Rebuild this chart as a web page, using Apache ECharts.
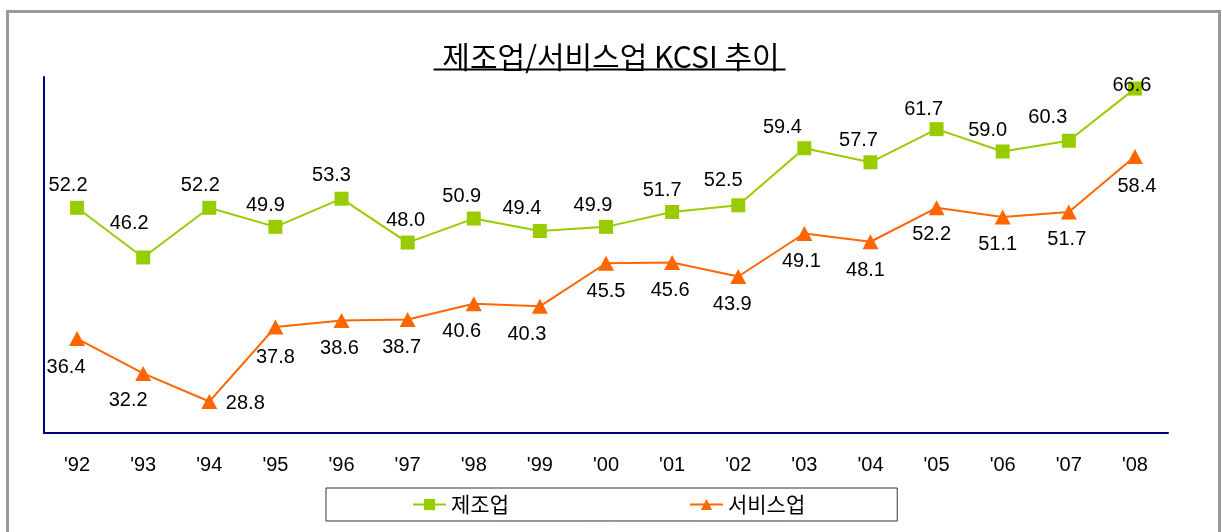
<!DOCTYPE html>
<html>
<head>
<meta charset="utf-8">
<script src="https://cdn.jsdelivr.net/npm/echarts@6/dist/echarts.min.js"></script>
<style>
  html, body { margin: 0; padding: 0; background: #fff; }
  #chart { width: 1222px; height: 532px; }
</style>
</head>
<body>
<div id="chart"></div>
<script>
var years = ["'92", "'93", "'94", "'95", "'96", "'97", "'98", "'99", "'00", "'01", "'02", "'03", "'04", "'05", "'06", "'07", "'08"]
var manufacturing = [52.2, 46.2, 52.2, 49.9, 53.3, 48.0, 50.9, 49.4, 49.9, 51.7, 52.5, 59.4, 57.7, 61.7, 59.0, 60.3, 66.6]
var service = [36.4, 32.2, 28.8, 37.8, 38.6, 38.7, 40.6, 40.3, 45.5, 45.6, 43.9, 49.1, 48.1, 52.2, 51.1, 51.7, 58.4]

// label nudges (px from the marker centre), hand placed in the original
var mfgLabelOffset = [[-9, -22], [-14, -34], [-9, -22], [-10, -21], [-10, -23], [-2, -22], [-12, -22], [-18, -23], [-13, -21],
  [-10, -21], [-15, -25], [-22, -21], [-12, -22], [-13, -20], [-15, -21], [-21, -23], [-3, -3]]
var svcLabelOffset = [[-11, 29], [-15, 27], [36, 2], [0, 30], [-2, 28], [-6, 28], [-12, 28], [-13, 28], [0, 28],
  [-2, 28], [-6, 28], [-3, 28], [-5, 29], [-5, 27], [-5, 28], [-2, 28], [2, 30]]

var COLORS = {
  mfg: '#99CC00',
  svc: '#FF6600',
  axis: '#000080',
  frame: '#9A9A9A'
}
var NUM_FONT = 'Liberation Sans, Arial, sans-serif'
var KR_FONT = 'Noto Sans CJK KR, sans-serif'

function withLabels(values, offsets) {
  return values.map(function (v, i) {
    return { value: v, label: { offset: offsets[i] } }
  })
}

var chart = echarts.init(document.getElementById('chart'))
chart.setOption({
  animation: false,
  backgroundColor: '#fff',
  title: {
    text: '제조업/서비스업 KCSI 추이',
    left: 'center',
    top: 37,
    textStyle: { fontFamily: KR_FONT, fontSize: 30, fontWeight: 'normal', color: '#000' }
  },
  graphic: [
    {
      type: 'rect',
      left: 5, top: 9,
      shape: { width: 1212, height: 540 },
      style: { fill: 'none', stroke: COLORS.frame, lineWidth: 3 },
      silent: true
    },
    {
      type: 'line',
      left: 431, top: 67,
      shape: { x1: 0, y1: 0, x2: 352, y2: 0 },
      style: { stroke: '#000', lineWidth: 2 },
      silent: true
    }
  ],
  legend: {
    data: ['제조업', '서비스업'],
    left: 326,
    top: 488,
    padding: [6, 92, 6, 86],
    itemGap: 180,
    itemWidth: 33,
    itemHeight: 14,
    borderColor: '#333',
    borderWidth: 1,
    textStyle: { fontFamily: KR_FONT, fontSize: 21, color: '#000' }
  },
  grid: { left: 44, right: 54, top: 77, bottom: 99 },
  xAxis: {
    type: 'category',
    data: years,
    boundaryGap: true,
    axisLine: { lineStyle: { color: COLORS.axis, width: 2 } },
    axisTick: { inside: true, length: 7, interval: 0, lineStyle: { color: COLORS.axis, width: 2 } },
    axisLabel: { interval: 0, margin: 22, color: '#000', fontSize: 20, fontFamily: NUM_FONT }
  },
  yAxis: {
    type: 'value',
    min: 25,
    max: 68,
    axisLine: { show: true, lineStyle: { color: COLORS.axis, width: 2 } },
    axisTick: { show: false },
    axisLabel: { show: false },
    splitLine: { show: false }
  },
  series: [
    {
      name: '제조업',
      type: 'line',
      data: withLabels(manufacturing, mfgLabelOffset),
      symbol: 'rect',
      symbolSize: 14,
      lineStyle: { color: COLORS.mfg, width: 2 },
      itemStyle: { color: COLORS.mfg },
      label: {
        show: true, position: 'inside', color: '#000', fontSize: 20, fontFamily: NUM_FONT,
        formatter: function (p) { return p.value.toFixed(1) }
      }
    },
    {
      name: '서비스업',
      type: 'line',
      data: withLabels(service, svcLabelOffset),
      symbol: 'triangle',
      symbolSize: [16, 15],
      lineStyle: { color: COLORS.svc, width: 2 },
      itemStyle: { color: COLORS.svc },
      label: {
        show: true, position: 'inside', color: '#000', fontSize: 20, fontFamily: NUM_FONT,
        formatter: function (p) { return p.value.toFixed(1) }
      }
    }
  ]
})
</script>
</body>
</html>
